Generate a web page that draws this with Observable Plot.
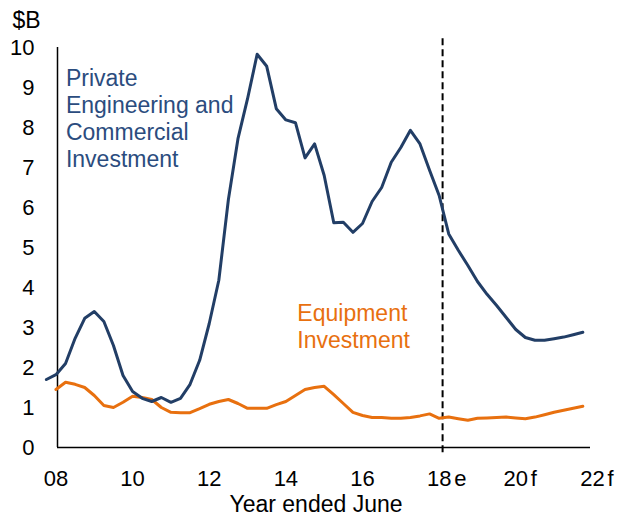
<!DOCTYPE html>
<html>
<head>
<meta charset="utf-8">
<script src="https://cdn.jsdelivr.net/npm/d3@7"></script>
<script src="https://cdn.jsdelivr.net/npm/@observablehq/plot@0.6"></script>
<style>
  html, body { margin: 0; padding: 0; background: #fff; }
  #chart svg { display: block; }
</style>
</head>
<body>
<div id="chart"></div>
<script>
// Quarterly observations (year ended June), actual then estimate/forecast
const engQuarters = [
  2007.75,
  2008.00, 2008.25, 2008.50, 2008.75,
  2009.00, 2009.25, 2009.50, 2009.75,
  2010.00, 2010.25, 2010.50, 2010.75,
  2011.00, 2011.25, 2011.50, 2011.75,
  2012.00, 2012.25, 2012.50, 2012.75,
  2013.00, 2013.25, 2013.50, 2013.75,
  2014.00, 2014.25, 2014.50, 2014.75,
  2015.00, 2015.25, 2015.50, 2015.75,
  2016.00, 2016.25, 2016.50, 2016.75,
  2017.00, 2017.25, 2017.50, 2017.75,
  2018.00, 2018.25, 2018.50, 2018.75,
  2019.00, 2019.25, 2019.50, 2019.75,
  2020.00, 2020.25, 2020.50, 2020.75,
  2021.00, 2021.25, 2021.50, 2021.75
];
const engValues = [
  1.70,
  1.82, 2.10, 2.73, 3.23,
  3.40, 3.15, 2.55, 1.80,
  1.40, 1.23, 1.15, 1.25,
  1.13, 1.23, 1.58, 2.18,
  3.10, 4.18, 6.20, 7.72,
  8.72, 9.83, 9.53, 8.47,
  8.19, 8.12, 7.24, 7.59,
  6.80, 5.62, 5.63, 5.38,
  5.60, 6.15, 6.50, 7.13,
  7.50, 7.93, 7.59, 6.93,
  6.30, 5.34, 4.93, 4.55,
  4.15, 3.83, 3.55, 3.25,
  2.95, 2.75, 2.68, 2.68,
  2.72, 2.76, 2.82, 2.88
];
const equipQuarters = engQuarters.slice(1);
const equipValues = [
  1.45, 1.63, 1.58, 1.50,
  1.30, 1.05, 1.00, 1.13,
  1.28, 1.25, 1.20, 1.00,
  0.88, 0.87, 0.87, 0.97,
  1.08, 1.15, 1.20, 1.10,
  0.98, 0.98, 0.98, 1.07,
  1.15, 1.30, 1.45, 1.50,
  1.53, 1.32, 1.10, 0.88,
  0.80, 0.75, 0.75, 0.73,
  0.73, 0.75, 0.79, 0.84,
  0.73, 0.76, 0.72, 0.68,
  0.73, 0.74, 0.75, 0.76,
  0.74, 0.72, 0.76, 0.82,
  0.88, 0.93, 0.98, 1.03
];
const xTickYears = [2008, 2010, 2012, 2014, 2016, 2018, 2020, 2022];
const xTickLabels = ["08", "10", "12", "14", "16", "18", "20", "22"];
const xTickSuffix = ["", "", "", "", "", "e", "f", "f"];
const yTicks = [0, 1, 2, 3, 4, 5, 6, 7, 8, 9, 10];
const forecastLine = [2018.09];
const engLabel = "Private\nEngineering and\nCommercial\nInvestment";
const equipLabel = "Equipment\nInvestment";

const eng = engQuarters.map((q, i) => ({q, v: engValues[i]}));
const equip = equipQuarters.map((q, i) => ({q, v: equipValues[i]}));
const xticks = xTickYears.map((x, i) => ({x, label: xTickLabels[i], suffix: xTickSuffix[i]}));

const navy = "#223e66";
const navyText = "#2b4c7e";
const orange = "#e8700f";
const font = "'Liberation Sans', Arial, sans-serif";

const chart = Plot.plot({
  width: 632,
  height: 515,
  marginLeft: 57,
  marginRight: 42,
  marginTop: 47,
  marginBottom: 68,
  x: {domain: [2008.04, 2021.95], axis: null},
  y: {domain: [0, 10]},
  style: {fontFamily: font, fontSize: "22px", color: "#000", background: "#fff", overflow: "visible"},
  marks: [
    Plot.axisY(yTicks, {tickSize: 0, tickPadding: 23, label: null, fontSize: 22, tickFormat: d => String(d)}),
    Plot.ruleX([2008.04], {stroke: "#000", strokeWidth: 1.5}),
    Plot.ruleY([0], {stroke: "#000", strokeWidth: 1.5}),
    Plot.ruleX(forecastLine, {y1: -0.13, y2: 10.25, stroke: "#000", strokeWidth: 2, strokeDasharray: "7,4"}),
    Plot.line(equip, {x: "q", y: "v", stroke: orange, strokeWidth: 3, strokeLinejoin: "round"}),
    Plot.line(eng, {x: "q", y: "v", stroke: navy, strokeWidth: 3, strokeLinejoin: "round"}),
    Plot.text(xticks, {x: "x", text: "label", frameAnchor: "bottom", lineAnchor: "bottom", dy: 38, fontSize: 22, fill: "#000"}),
    Plot.text(xticks, {x: "x", text: "suffix", frameAnchor: "bottom", lineAnchor: "bottom", textAnchor: "start", dx: 15, dy: 38, fontSize: 22, fill: "#000"}),
    Plot.text(["Year ended June"], {frameAnchor: "bottom", lineAnchor: "bottom", dx: -8, dy: 64, fontSize: 23, fill: "#000"}),
    Plot.text(["$B"], {frameAnchor: "top-left", lineAnchor: "bottom", textAnchor: "start", dx: -45, dy: -20, fontSize: 23, fill: "#000"}),
    Plot.text([engLabel], {x: 2008.26, y: 9.51, textAnchor: "start", lineAnchor: "top", lineHeight: 1.17, fontSize: 23, fill: navyText}),
    Plot.text([equipLabel], {x: 2014.3, y: 3.64, textAnchor: "start", lineAnchor: "top", lineHeight: 1.17, fontSize: 23, fill: orange})
  ]
});
document.getElementById("chart").appendChild(chart);
</script>
</body>
</html>
